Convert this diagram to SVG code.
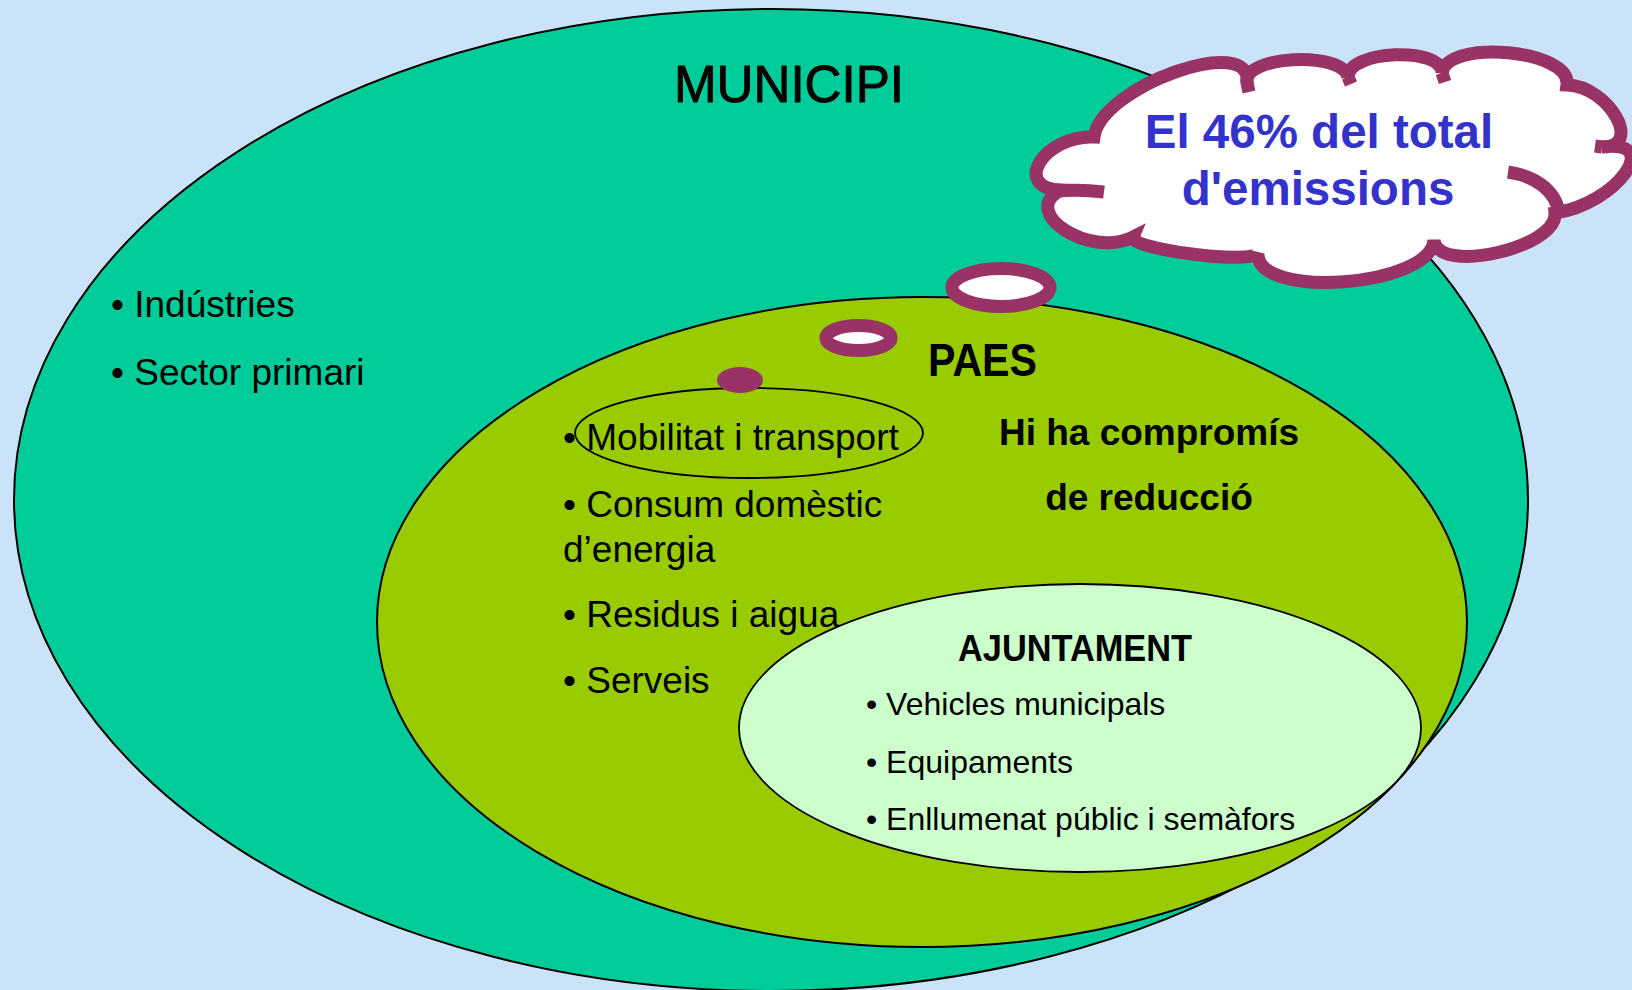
<svg xmlns="http://www.w3.org/2000/svg" width="1632" height="990" viewBox="0 0 1632 990">
<style>
.t{font-family:"Liberation Sans",Arial,sans-serif;fill:#000}
.b{font-weight:bold}
.l{font-size:37px}
.s{font-size:32px}
.edge{stroke:#000;stroke-width:2}
.mar{fill:none;stroke:#993366;stroke-width:13}
</style>
<rect x="0" y="0" width="1632" height="990" fill="#CBE3F8"/>
<g id="municipi">
<ellipse cx="771" cy="500" rx="757" ry="491" fill="#00CC99" class="edge"/>
<text class="t" x="789" y="102" font-size="51" text-anchor="middle" stroke="#000" stroke-width="0.9" textLength="230" lengthAdjust="spacingAndGlyphs">MUNICIPI</text>
<text class="t l" x="111" y="317">• Indústries</text>
<text class="t l" x="111" y="385">• Sector primari</text>
</g>
<g id="paes">
<ellipse cx="922" cy="622" rx="545" ry="325" fill="#99CC00" class="edge"/>
</g>
<g id="ajuntament">
<ellipse cx="1080" cy="728" rx="341" ry="144" fill="#CCFFCC" stroke="#000" stroke-width="1.8"/>
</g>
<g id="mobilitat">
<ellipse cx="749" cy="433" rx="174" ry="45" fill="none" stroke="#000" stroke-width="1.8"/>
</g>
<g id="connectors">
<ellipse cx="740" cy="380" rx="23" ry="13" fill="#993366"/>
<ellipse cx="858.5" cy="338" rx="32.5" ry="12.5" fill="#FFFFFF" stroke="#993366" stroke-width="13"/>
<ellipse cx="1001" cy="287.5" rx="49" ry="19" fill="#FFFFFF" stroke="#993366" stroke-width="13"/>
</g>
<g id="cloud">
<path d="M1094,137 C1101,86 1254,32 1247,83 C1241,56 1342,50 1348,77 C1348,50 1442,46 1442,73 C1447,38 1572,50 1567,85 C1609,86 1644,148 1602,147 C1664,138 1617,204 1555,213 C1558,248 1437,275 1434,240 C1431,287 1255,300 1258,253 C1253,265 1128,249 1133,237 C1090,259 1018,212 1061,190 C1011,188 1044,135 1094,137 Z" fill="#FFFFFF" stroke="#993366" stroke-width="13" stroke-linejoin="miter"/>
<path class="mar" d="M1057,191 Q1080,189 1104,192"/>
<path class="mar" d="M1508,172 C1535,176 1555,190 1559,212"/>
<path class="mar" d="M1247,83 L1249,92"/>
<path class="mar" d="M1348,77 L1351,84"/>
<path class="mar" d="M1442,73 L1445,82"/>
<path class="mar" d="M1602,147 L1595,146"/>
<text x="1319" y="148" font-family="Liberation Sans, Arial, sans-serif" font-weight="bold" font-size="47.5" fill="#3333CC" text-anchor="middle">El 46% del total</text>
<text x="1318" y="205" font-family="Liberation Sans, Arial, sans-serif" font-weight="bold" font-size="47.5" fill="#3333CC" text-anchor="middle">d'emissions</text>
</g>
<g id="paes-text">
<text class="t b" x="982.5" y="376" font-size="46" text-anchor="middle" textLength="109" lengthAdjust="spacingAndGlyphs">PAES</text>
<text class="t b" x="1149" y="445" font-size="37" text-anchor="middle">Hi ha compromís</text>
<text class="t b" x="1149" y="510" font-size="37" text-anchor="middle">de reducció</text>
<text class="t l" x="563" y="450">• Mobilitat i transport</text>
<text class="t l" x="563" y="517">• Consum domèstic</text>
<text class="t l" x="563" y="562">d’energia</text>
<text class="t l" x="563" y="627">• Residus i aigua</text>
<text class="t l" x="563" y="693">• Serveis</text>
</g>
<g id="ajuntament-text">
<text class="t b" x="1075" y="661" font-size="36" text-anchor="middle" textLength="234" lengthAdjust="spacingAndGlyphs">AJUNTAMENT</text>
<text class="t s" x="866" y="715">• Vehicles municipals</text>
<text class="t s" x="866" y="773">• Equipaments</text>
<text class="t s" x="866" y="830">• Enllumenat públic i semàfors</text>
</g>
</svg>
